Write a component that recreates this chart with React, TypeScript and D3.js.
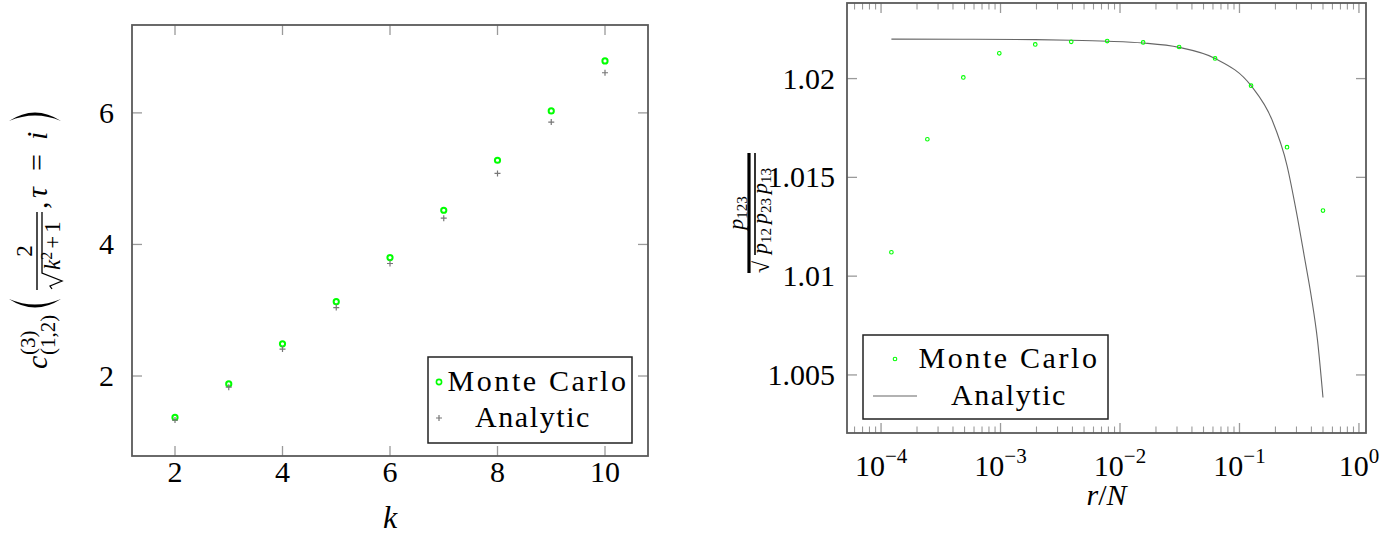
import React from 'react';
import * as d3 from 'd3';

const W = 1384;
const H = 536;
const FONT = "'Liberation Serif', 'Times New Roman', serif";

// ---------- Left panel data ----------
const kValues = [2, 3, 4, 5, 6, 7, 8, 9, 10];
const monteCarloLeft = [1.37, 1.88, 2.49, 3.13, 3.8, 4.52, 5.28, 6.03, 6.79];
const analyticLeft = [1.33, 1.83, 2.41, 3.04, 3.71, 4.4, 5.08, 5.86, 6.61];
const leftXTicks = [2, 4, 6, 8, 10];
const leftYTicks = [2, 4, 6];

// ---------- Right panel data ----------
const ratioValues = [
  1.220703125e-4, 2.44140625e-4, 4.8828125e-4, 9.765625e-4, 0.001953125, 0.00390625,
  0.0078125, 0.015625, 0.03125, 0.0625, 0.125, 0.25, 0.5,
];
const monteCarloRight = [
  1.01121, 1.01693, 1.02006, 1.02128, 1.02173, 1.02186, 1.0219, 1.02183, 1.0216, 1.02102,
  1.01964, 1.01653, 1.01332,
];
const analyticX = [
  1.220703125e-4, 4.8828125e-4, 0.001953125, 0.00390625, 0.0078125, 0.015625, 0.03125,
  0.0625, 0.125, 0.1875, 0.25, 0.3, 0.35, 0.4, 0.45, 0.5,
];
const analyticY = [
  1.022, 1.02199, 1.02197, 1.02194, 1.02189, 1.0218, 1.02158, 1.02102, 1.01964, 1.0179,
  1.0156, 1.01323, 1.01095, 1.00893, 1.00675, 1.00386,
];
const rightXTicks = [1e-4, 1e-3, 1e-2, 1e-1, 1];
const rightXTickExps = ['−4', '−3', '−2', '−1', '0'];
const rightYTicks = [1.005, 1.01, 1.015, 1.02];
const rightYTickLabels = ['1.005', '1.01', '1.015', '1.02'];

const GREEN = '#00ff00';
const FRAME = '#5a5a5a';
const TICK = '#9a9a9a';
const MAJOR = 10;
const MINOR = 6.5;

function LeftPlot() {
  const x = d3.scaleLinear().domain([1.2, 10.8]).range([132, 648]);
  const y = d3.scaleLinear().domain([0.784, 7.336]).range([456, 25]);
  const [x0, x1] = x.range();
  const [y0, y1] = y.range();
  return (
    <g>
      {leftXTicks.map((t) => (
        <g key={'lx' + t}>
          <line x1={x(t)} x2={x(t)} y1={y0} y2={y0 - MAJOR} stroke={TICK} strokeWidth={1.3} />
          <line x1={x(t)} x2={x(t)} y1={y1} y2={y1 + MAJOR} stroke={TICK} strokeWidth={1.3} />
          <text x={x(t)} y={482} textAnchor="middle" fontSize={30} fontFamily={FONT}>
            {t}
          </text>
        </g>
      ))}
      {leftYTicks.map((t) => (
        <g key={'ly' + t}>
          <line x1={x0} x2={x0 + MAJOR} y1={y(t)} y2={y(t)} stroke={TICK} strokeWidth={1.3} />
          <line x1={x1} x2={x1 - MAJOR} y1={y(t)} y2={y(t)} stroke={TICK} strokeWidth={1.3} />
          <text x={114} y={y(t) + 10} textAnchor="end" fontSize={30} fontFamily={FONT}>
            {t}
          </text>
        </g>
      ))}
      <rect x={x0} y={y1} width={x1 - x0} height={y0 - y1} fill="none" stroke={FRAME} strokeWidth={1.8} />
      {kValues.map((k, i) => (
        <circle key={'mc' + k} cx={x(k)} cy={y(monteCarloLeft[i])} r={2.6} fill="none" stroke={GREEN} strokeWidth={2} />
      ))}
      {kValues.map((k, i) => (
        <path
          key={'an' + k}
          d={`M${x(k) - 3},${y(analyticLeft[i])}h6M${x(k)},${y(analyticLeft[i]) - 3}v6`}
          stroke="#777"
          strokeWidth={1.2}
        />
      ))}
      {/* legend */}
      <rect x={428} y={357} width={204} height={86} fill="white" stroke="#222" strokeWidth={1.5} />
      <circle cx={439} cy={382} r={2.6} fill="none" stroke={GREEN} strokeWidth={1.6} />
      <path d="M436,418h6M439,415v6" stroke="#777" strokeWidth={1.2} />
      <text x={538} y={391} textAnchor="middle" fontSize={30} fontFamily={FONT} letterSpacing={2.6}>
        Monte Carlo
      </text>
      <text x={533} y={427} textAnchor="middle" fontSize={30} fontFamily={FONT} letterSpacing={1.6}>
        Analytic
      </text>
      {/* x label */}
      <text x={(x0 + x1) / 2} y={528} textAnchor="middle" fontSize={32} fontFamily={FONT} fontStyle="italic">
        k
      </text>
      <LeftYLabel />
    </g>
  );
}

function paren(uc: number, open: boolean) {
  // thin crescent-shaped big delimiter in the rotated frame (u along text, v across)
  const top = -38;
  const bot = 14;
  const mid = (top + bot) / 2;
  if (open) {
    return `M${uc + 6},${top} Q${uc - 11},${mid} ${uc + 6},${bot} Q${uc - 5},${mid} ${uc + 6},${top} Z`;
  }
  return `M${uc - 6},${top} Q${uc + 11},${mid} ${uc - 6},${bot} Q${uc + 5},${mid} ${uc - 6},${top} Z`;
}

function LeftYLabel() {
  const F = 30;
  const s = 21;
  const f = 23;
  return (
    <g transform="translate(47, 369) rotate(-90)" fontFamily={FONT}>
      <text x={0} y={0} fontSize={F} fontStyle="italic">c</text>
      <text x={14} y={-12} fontSize={s}>(3)</text>
      <text x={14} y={8} fontSize={s}>(1,2)</text>
      <path d={paren(64, true)} fill="#000" />
      {/* fraction 2 / sqrt(k^2+1) */}
      <text x={118} y={-15} fontSize={f} textAnchor="middle">2</text>
      <line x1={79} x2={157} y1={-10} y2={-10} stroke="#000" strokeWidth={1.4} />
      <path d="M80,5 L83,3 L88,15 L96,-5 L157,-5" fill="none" stroke="#000" strokeWidth={1.3} />
      <text x={99} y={13} fontSize={f}>
        <tspan fontStyle="italic">k</tspan>
        <tspan fontSize={16} dy={-8}>2</tspan>
        <tspan dy={8} dx={3}>+</tspan>
        <tspan dx={3}>1</tspan>
      </text>
      <text x={160} y={0} fontSize={F}>,</text>
      <text x={171} y={0} fontSize={F} fontStyle="italic">τ</text>
      <text x={198} y={0} fontSize={F}>=</text>
      <text x={229} y={0} fontSize={F} fontStyle="italic">i</text>
      <path d={paren(254, false)} fill="#000" />
    </g>
  );
}

function RightPlot() {
  const x = d3.scaleLog().domain([Math.pow(10, -4.285), Math.pow(10, 0.059)]).range([847, 1366]);
  const y = d3.scaleLinear().domain([1.002061, 1.023826]).range([433, 3]);
  const [x0, x1] = x.range();
  const [y0, y1] = y.range();
  const minor: number[] = [];
  for (let e = -5; e <= 0; e++) {
    for (let m = 2; m <= 9; m++) {
      const v = m * Math.pow(10, e);
      const px = x(v);
      if (px > x0 + 0.5 && px < x1 - 0.5) minor.push(v);
    }
  }
  const line = d3
    .line<number>()
    .x((_, i) => x(analyticX[i]))
    .y((d) => y(d))
    .curve(d3.curveMonotoneX);
  return (
    <g>
      {minor.map((v, i) => (
        <g key={'mn' + i}>
          <line x1={x(v)} x2={x(v)} y1={y0} y2={y0 - MINOR} stroke={TICK} strokeWidth={1.1} />
          <line x1={x(v)} x2={x(v)} y1={y1} y2={y1 + MINOR} stroke={TICK} strokeWidth={1.1} />
        </g>
      ))}
      {rightXTicks.map((t, i) => (
        <g key={'rx' + i}>
          <line x1={x(t)} x2={x(t)} y1={y0} y2={y0 - MAJOR} stroke={TICK} strokeWidth={1.3} />
          <line x1={x(t)} x2={x(t)} y1={y1} y2={y1 + MAJOR} stroke={TICK} strokeWidth={1.3} />
          <text x={x(t)} y={476} textAnchor="middle" fontSize={30} fontFamily={FONT}>
            <tspan>10</tspan>
            <tspan fontSize={21} dy={-13}>
              {rightXTickExps[i]}
            </tspan>
          </text>
        </g>
      ))}
      {rightYTicks.map((t, i) => (
        <g key={'ry' + i}>
          <line x1={x0} x2={x0 + MAJOR} y1={y(t)} y2={y(t)} stroke={TICK} strokeWidth={1.3} />
          <line x1={x1} x2={x1 - MAJOR} y1={y(t)} y2={y(t)} stroke={TICK} strokeWidth={1.3} />
          <text x={835} y={y(t) + 10} textAnchor="end" fontSize={30} fontFamily={FONT}>
            {rightYTickLabels[i]}
          </text>
        </g>
      ))}
      <rect x={x0} y={y1} width={x1 - x0} height={y0 - y1} fill="none" stroke={FRAME} strokeWidth={1.8} />
      <path d={line(analyticY) || ''} fill="none" stroke="#666" strokeWidth={1.1} />
      {ratioValues.map((r, i) => (
        <circle key={'rm' + i} cx={x(r)} cy={y(monteCarloRight[i])} r={1.8} fill="none" stroke={GREEN} strokeWidth={1.1} />
      ))}
      {/* legend */}
      <rect x={863} y={335} width={245} height={84} fill="white" stroke="#222" strokeWidth={1.5} />
      <circle cx={895} cy={359} r={1.8} fill="none" stroke={GREEN} strokeWidth={1.1} />
      <line x1={873} x2={917} y1={396} y2={396} stroke="#666" strokeWidth={1.1} />
      <text x={1009} y={368} textAnchor="middle" fontSize={30} fontFamily={FONT} letterSpacing={2.6}>
        Monte Carlo
      </text>
      <text x={1009} y={405} textAnchor="middle" fontSize={30} fontFamily={FONT} letterSpacing={1.6}>
        Analytic
      </text>
      {/* x label */}
      <text x={(x0 + x1) / 2} y={505} textAnchor="middle" fontSize={30} fontFamily={FONT}>
        <tspan fontStyle="italic">r</tspan>
        <tspan>/</tspan>
        <tspan fontStyle="italic">N</tspan>
      </text>
      <RightYLabel />
    </g>
  );
}

function RightYLabel() {
  // rotated fraction p123 / sqrt(p12 p23 p13); origin at bar bottom
  const F = 22;
  const s = 15;
  return (
    <g transform="translate(749, 273) rotate(-90)" fontFamily={FONT}>
      <text x={60} y={-6} fontSize={F} textAnchor="middle">
        <tspan fontStyle="italic">p</tspan>
        <tspan fontSize={s} dy={4}>123</tspan>
      </text>
      <line x1={0} x2={120} y1={0} y2={0} stroke="#000" strokeWidth={3.2} />
      <line x1={18} x2={120} y1={6} y2={6} stroke="#000" strokeWidth={1.6} />
      <text x={0} y={20} fontSize={F}>√</text>
      <text x={19} y={18} fontSize={F}>
        <tspan fontStyle="italic">p</tspan>
        <tspan fontSize={s} dy={4}>12</tspan>
        <tspan dy={-4} dx={4} fontStyle="italic">p</tspan>
        <tspan fontSize={s} dy={4}>23</tspan>
        <tspan dy={-4} dx={4} fontStyle="italic">p</tspan>
        <tspan fontSize={s} dy={4}>13</tspan>
      </text>
    </g>
  );
}

export default function App() {
  return (
    <svg
      width={W}
      height={H}
      viewBox={`0 0 ${W} ${H}`}
      style={{ position: 'absolute', left: 0, top: 0, background: 'white', display: 'block' }}
    >
      <rect x={0} y={0} width={W} height={H} fill="white" />
      <LeftPlot />
      <RightPlot />
    </svg>
  );
}
